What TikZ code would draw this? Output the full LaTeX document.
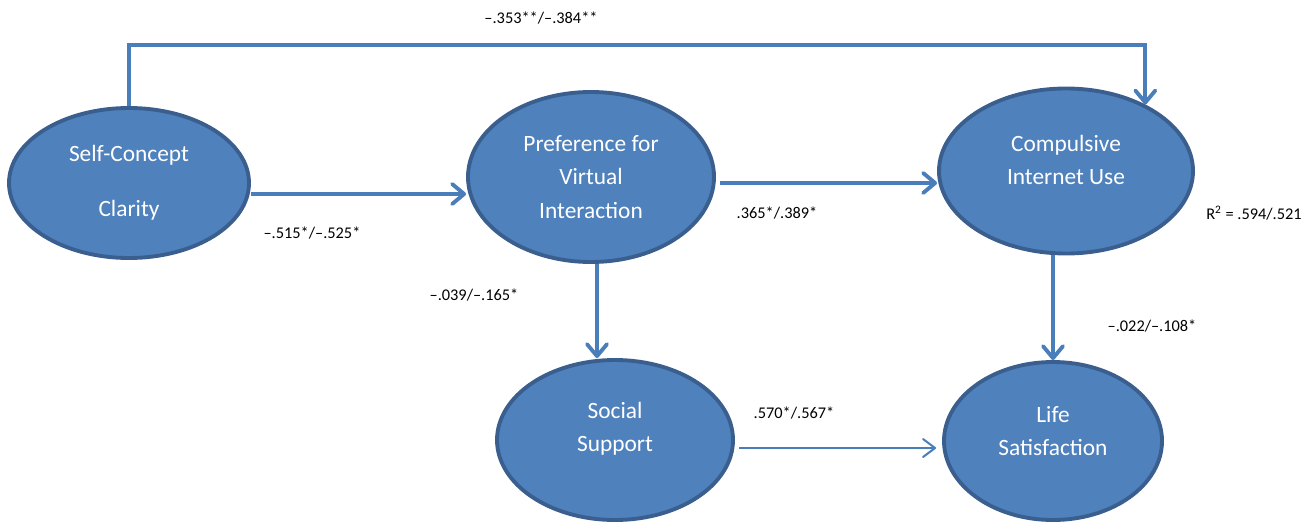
\documentclass[tikz,border=0pt]{standalone}
\usepackage{fontspec}
\setmainfont{Carlito}
\usetikzlibrary{positioning, arrows.meta, shapes.geometric, calc}
\definecolor{popfill}{HTML}{4F81BD}
\definecolor{popedge}{HTML}{3A5F8E}
\definecolor{pathblue}{HTML}{4A7EBB}

\begin{document}
\begin{tikzpicture}[
  every path/.style={line width=2.2pt},
  pop/.style   = {ellipse, draw=popedge, fill=popfill, line width=2.2pt, inner sep=0pt},
  txt/.style   = {text=white, align=center, font=\fontsize{13.3}{19}\selectfont},
  coef/.style  = {font=\fontsize{9.3}{11}\selectfont, inner sep=1pt},
  Ef/.style    = {draw=pathblue, -{Straight Barb[round, length=0.24cm, width=0.4cm]}},
  Efthin/.style= {draw=pathblue, line width=1.15pt, -{Straight Barb[round, length=0.24cm, width=0.36cm]}},
  ]
  \useasboundingbox (0,0) rectangle (26.28,-10.48);

  % Latent variables
  \node (scc) at (2.58,-3.66)  [pop, minimum width=4.8cm,  minimum height=3.0cm,
        label={[name=scctxt, txt]center:Self-Concept\\[0.43cm]Clarity}] {};
  \node (pvi) at (11.82,-3.54) [pop, minimum width=4.92cm, minimum height=3.4cm,
        label={[name=pvitxt, txt]center:Preference for\\Virtual\\Interaction}] {};
  \node (ciu) at (21.32,-3.42) [pop, minimum width=5.08cm, minimum height=3.3cm,
        label={[name=ciutxt, txt, yshift=0.22cm]center:Compulsive\\Internet Use}] {};
  \node (ss)  at (12.3,-8.8)   [pop, minimum width=4.72cm, minimum height=3.2cm,
        label={[name=sstxt, txt, yshift=0.22cm]center:Social\\Support}] {};
  \node (ls)  at (21.06,-8.82) [pop, minimum width=4.36cm, minimum height=3.16cm,
        label={[name=lstxt, txt, yshift=0.2cm]center:Life\\Satisfaction}] {};

  % Paths
  \coordinate (top) at (0,-0.9);
  \draw[Ef] (scc.north) -- (scc.north |- top) -| (ciu.40);
  \draw[Ef] ([yshift=-0.22cm]scc.east) -- ([yshift=-0.22cm]scc.east -| pvi.west);
  \draw[Ef] ([shift={(0.08,-0.12)}]pvi.east) -- ([yshift=-0.12cm]pvi.east -| ciu.west);
  \draw[Ef] ([xshift=0.12cm]pvi.south) -- ([xshift=0.12cm]pvi.south |- ss.north);
  \draw[Ef] (ciu.south -| ls.north) -- (ls.north);
  \draw[Efthin, shorten >=0.12cm] ([shift={(0.08,-0.16)}]ss.east) -- ([yshift=-0.16cm]ss.east -| ls.west);

  % Coefficients
  \node (c1) at (10.82,-0.36) [coef] {–.353**/–.384**};
  \node (c2) at (6.24,-4.66)  [coef] {–.515*/–.525*};
  \node (c3) at (15.54,-4.26) [coef] {.365*/.389*};
  \node (r2) at (25.08,-4.26) [coef] {R\textsuperscript{2} = .594/.521};
  \node (c4) at (9.48,-5.9)   [coef] {–.039/–.165*};
  \node (c5) at (23.04,-6.52) [coef] {–.022/–.108*};
  \node (c6) at (15.88,-8.26) [coef] {.570*/.567*};
\end{tikzpicture}
\end{document}
